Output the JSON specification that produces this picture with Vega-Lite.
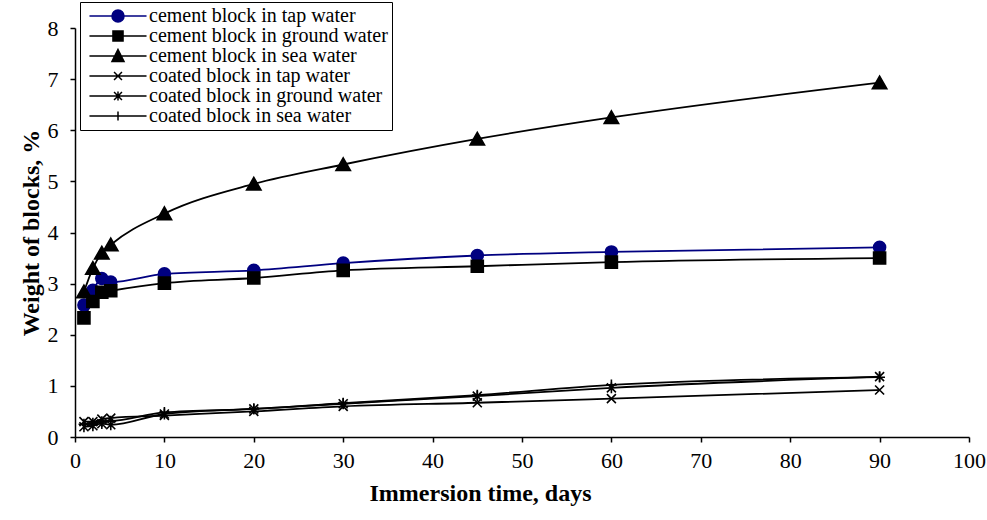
{
  "$schema": "https://vega.github.io/schema/vega-lite/v6.json",
  "width": 894,
  "height": 409,
  "autosize": {"type": "none"},
  "padding": {"left": 75, "top": 28, "right": 18, "bottom": 83},
  "background": "white",
  "config": {
    "view": {"stroke": null},
    "axis": {
      "grid": false,
      "domainColor": "black",
      "domainWidth": 1.5,
      "tickColor": "black",
      "tickWidth": 1.5,
      "tickSize": 5,
      "labelFont": "Liberation Serif",
      "labelFontSize": 22,
      "labelColor": "black",
      "labelFlush": false,
      "titleFont": "Liberation Serif",
      "titleFontSize": 24,
      "titleFontWeight": "bold",
      "titleColor": "black"
    },
    "legend": {
      "title": null,
      "orient": "none",
      "legendX": 5,
      "legendY": -26,
      "padding": 4,
      "rowPadding": -2,
      "symbolSize": 324,
      "symbolStrokeWidth": 1.5,
      "symbolOpacity": 1,
      "symbolOffset": 24,
      "labelOffset": 21,
      "labelFont": "Liberation Serif",
      "labelFontSize": 20,
      "labelColor": "black",
      "labelLimit": 400,
      "strokeColor": "black",
      "fillColor": "white"
    }
  },
  "data": {
    "values": [
      {"s": "cement block in tap water", "d": 1, "v": 2.58},
      {"s": "cement block in tap water", "d": 2, "v": 2.87},
      {"s": "cement block in tap water", "d": 3, "v": 3.1},
      {"s": "cement block in tap water", "d": 4, "v": 3.03},
      {"s": "cement block in tap water", "d": 10, "v": 3.19},
      {"s": "cement block in tap water", "d": 20, "v": 3.26},
      {"s": "cement block in tap water", "d": 30, "v": 3.4},
      {"s": "cement block in tap water", "d": 45, "v": 3.55},
      {"s": "cement block in tap water", "d": 60, "v": 3.62},
      {"s": "cement block in tap water", "d": 90, "v": 3.71},
      {"s": "cement block in ground water", "d": 1, "v": 2.33},
      {"s": "cement block in ground water", "d": 2, "v": 2.65},
      {"s": "cement block in ground water", "d": 3, "v": 2.83},
      {"s": "cement block in ground water", "d": 4, "v": 2.86},
      {"s": "cement block in ground water", "d": 10, "v": 3.01},
      {"s": "cement block in ground water", "d": 20, "v": 3.11},
      {"s": "cement block in ground water", "d": 30, "v": 3.26},
      {"s": "cement block in ground water", "d": 45, "v": 3.34},
      {"s": "cement block in ground water", "d": 60, "v": 3.42},
      {"s": "cement block in ground water", "d": 90, "v": 3.5},
      {"s": "cement block in sea water", "d": 1, "v": 2.84},
      {"s": "cement block in sea water", "d": 2, "v": 3.3},
      {"s": "cement block in sea water", "d": 3, "v": 3.6},
      {"s": "cement block in sea water", "d": 4, "v": 3.76},
      {"s": "cement block in sea water", "d": 10, "v": 4.37},
      {"s": "cement block in sea water", "d": 20, "v": 4.95},
      {"s": "cement block in sea water", "d": 30, "v": 5.33},
      {"s": "cement block in sea water", "d": 45, "v": 5.83},
      {"s": "cement block in sea water", "d": 60, "v": 6.25},
      {"s": "cement block in sea water", "d": 90, "v": 6.93},
      {"s": "coated block in tap water", "d": 1, "v": 0.3},
      {"s": "coated block in tap water", "d": 2, "v": 0.3},
      {"s": "coated block in tap water", "d": 3, "v": 0.35},
      {"s": "coated block in tap water", "d": 4, "v": 0.37},
      {"s": "coated block in tap water", "d": 10, "v": 0.42},
      {"s": "coated block in tap water", "d": 20, "v": 0.5},
      {"s": "coated block in tap water", "d": 30, "v": 0.6},
      {"s": "coated block in tap water", "d": 45, "v": 0.67},
      {"s": "coated block in tap water", "d": 60, "v": 0.75},
      {"s": "coated block in tap water", "d": 90, "v": 0.92},
      {"s": "coated block in ground water", "d": 1, "v": 0.2},
      {"s": "coated block in ground water", "d": 2, "v": 0.22},
      {"s": "coated block in ground water", "d": 3, "v": 0.26},
      {"s": "coated block in ground water", "d": 4, "v": 0.24},
      {"s": "coated block in ground water", "d": 10, "v": 0.45},
      {"s": "coated block in ground water", "d": 20, "v": 0.55},
      {"s": "coated block in ground water", "d": 30, "v": 0.65},
      {"s": "coated block in ground water", "d": 45, "v": 0.8},
      {"s": "coated block in ground water", "d": 60, "v": 0.96},
      {"s": "coated block in ground water", "d": 90, "v": 1.18},
      {"s": "coated block in sea water", "d": 1, "v": 0.25},
      {"s": "coated block in sea water", "d": 2, "v": 0.27},
      {"s": "coated block in sea water", "d": 3, "v": 0.3},
      {"s": "coated block in sea water", "d": 4, "v": 0.31},
      {"s": "coated block in sea water", "d": 10, "v": 0.48},
      {"s": "coated block in sea water", "d": 20, "v": 0.55},
      {"s": "coated block in sea water", "d": 30, "v": 0.66},
      {"s": "coated block in sea water", "d": 45, "v": 0.82},
      {"s": "coated block in sea water", "d": 60, "v": 1.02},
      {"s": "coated block in sea water", "d": 90, "v": 1.17}
    ]
  },
  "encoding": {
    "x": {
      "field": "d",
      "type": "quantitative",
      "scale": {"domain": [0, 100], "nice": false},
      "axis": {
        "title": "Immersion time, days",
        "values": [0, 10, 20, 30, 40, 50, 60, 70, 80, 90, 100],
        "labelPadding": 8,
        "titlePadding": 10,
        "titleX": 405
      }
    },
    "y": {
      "field": "v",
      "type": "quantitative",
      "scale": {"domain": [0, 8], "nice": false},
      "axis": {
        "title": "Weight of blocks, %",
        "values": [0, 1, 2, 3, 4, 5, 6, 7, 8],
        "labelPadding": 12,
        "titlePadding": 4
      }
    }
  },
  "resolve": {"scale": {"shape": "independent", "color": "independent", "stroke": "independent"}},
  "layer": [
    {
      "mark": {"type": "line", "interpolate": "monotone", "strokeWidth": 1.8},
      "encoding": {
        "detail": {"field": "s"},
        "color": {"condition": {"test": "datum.s === 'cement block in tap water'", "value": "#000080"}, "value": "black"}
      }
    },
    {
      "mark": {"type": "point", "filled": true, "size": 144, "strokeWidth": 1.6, "opacity": 1},
      "encoding": {
        "color": {"condition": {"test": "datum.s === 'cement block in tap water'", "value": "#000080"}, "value": "black"},
        "stroke": {"condition": {"test": "datum.s === 'cement block in tap water'", "value": "#000080"}, "value": "black"},
        "shape": {
          "field": "s",
          "type": "nominal",
          "scale": {
            "domain": ["cement block in tap water", "cement block in ground water", "cement block in sea water", "coated block in tap water", "coated block in ground water", "coated block in sea water"],
            "range": [
              "circle",
              "square",
              "M0,-1.1L1.2,1L-1.2,1Z",
              "M-0.75,-0.75L0.75,0.75M0.75,-0.75L-0.75,0.75",
              "M-0.75,-0.75L0.75,0.75M0.75,-0.75L-0.75,0.75M0,-0.9L0,0.9",
              "M-0.9,0L0.9,0M0,-0.9L0,0.9"
            ]
          },
          "legend": null
        }
      }
    },
    {
      "mark": {"type": "point", "filled": true, "opacity": 0},
      "encoding": {
        "color": {
          "field": "s",
          "type": "nominal",
          "scale": {
            "domain": ["cement block in tap water", "cement block in ground water", "cement block in sea water", "coated block in tap water", "coated block in ground water", "coated block in sea water"],
            "range": ["#000080", "black", "black", "black", "black", "black"]
          }
        },
        "stroke": {
          "field": "s",
          "type": "nominal",
          "scale": {
            "domain": ["cement block in tap water", "cement block in ground water", "cement block in sea water", "coated block in tap water", "coated block in ground water", "coated block in sea water"],
            "range": ["#000080", "black", "black", "black", "black", "black"]
          }
        },
        "shape": {
          "field": "s",
          "type": "nominal",
          "scale": {
            "domain": ["cement block in tap water", "cement block in ground water", "cement block in sea water", "coated block in tap water", "coated block in ground water", "coated block in sea water"],
            "range": [
              "M-3.17,0L3.17,0M0.67,0A0.67,0.67,0,1,1,-0.67,0A0.67,0.67,0,1,1,0.67,0Z",
              "M-3.17,0L3.17,0M-0.56,-0.56L0.56,-0.56L0.56,0.56L-0.56,0.56Z",
              "M-3.17,0L3.17,0M0,-0.72L0.67,0.6L-0.67,0.6Z",
              "M-3.17,0L3.17,0M-0.44,-0.44L0.44,0.44M0.44,-0.44L-0.44,0.44",
              "M-3.17,0L3.17,0M-0.44,-0.44L0.44,0.44M0.44,-0.44L-0.44,0.44M0,-0.5L0,0.5",
              "M-3.17,0L3.17,0M0,-0.5L0,0.5"
            ]
          }
        }
      }
    }
  ]
}
